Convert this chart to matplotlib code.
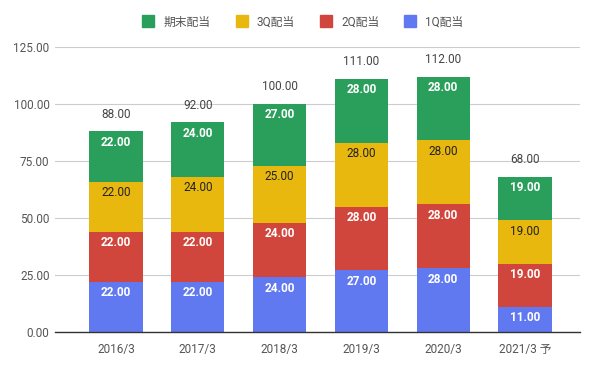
import matplotlib
matplotlib.use("Agg")
import matplotlib.pyplot as plt
import numpy as np
from matplotlib.lines import Line2D

plt.rcParams["font.family"] = ["Roboto", "Noto Sans CJK JP", "DejaVu Sans"]

categories = ["2016/3", "2017/3", "2018/3", "2019/3", "2020/3", "2021/3 予"]
q1 = [22, 22, 24, 27, 28, 11]
q2 = [22, 22, 24, 28, 28, 19]
q3 = [22, 24, 25, 28, 28, 19]
q_end = [22, 24, 27, 28, 28, 19]
series_names = ["1Q配当", "2Q配当", "3Q配当", "期末配当"]
yticks = [0, 25, 50, 75, 100, 125]

colors = ["#6079f1", "#d1463c", "#e8b80f", "#2a9f5b"]
label_colors = ["white", "white", "#222222", "white"]
label_weights = ["bold", "bold", "normal", "bold"]

W, H = 597, 368
fig = plt.figure(figsize=(W / 100, H / 100), dpi=100)
ax = fig.add_axes([55 / W, 1 - 332 / H, (580 - 55) / W, (332 - 47) / H])

x = np.arange(len(categories))
series = [q1, q2, q3, q_end]
bottom = np.zeros(len(categories))
px_per_unit = (332 - 47) / 125
for vals, col, lc, lw in zip(series, colors, label_colors, label_weights):
    vals = np.array(vals, dtype=float)
    ax.bar(x, vals, width=0.65, bottom=bottom, color=col, zorder=3)
    for xi, b, v in zip(x, bottom, vals):
        ax.text(xi, b + v - 11 / px_per_unit, f"{v:.2f}", ha="center", va="center",
                color=lc, fontsize=8.5, fontweight=lw, zorder=4)
    bottom += vals

for xi, tot in zip(x, bottom):
    ax.text(xi, tot + 17 / px_per_unit, f"{tot:.2f}", ha="center", va="center",
            color="#444444", fontsize=8.5, zorder=4)

ax.set_xlim((55 - 116) / 81.8, (580 - 116) / 81.8)
ax.set_ylim(0, 125)
ax.set_yticks(yticks)
ax.set_yticklabels([f"{t:.2f}" for t in yticks])
ax.set_xticks(x)
ax.set_xticklabels(categories)
ax.tick_params(axis="both", length=0, labelsize=8.5, colors="#555555", pad=4)
ax.tick_params(axis="x", pad=8)
ax.grid(axis="y", color="#cccccc", linewidth=0.8, zorder=0)
for side in ["top", "right", "left"]:
    ax.spines[side].set_visible(False)
ax.spines["bottom"].set_color("#333333")
ax.spines["bottom"].set_linewidth(1.0)
ax.spines["bottom"].set_zorder(5)

handles = [Line2D([], [], marker="s", linestyle="", markersize=8, color=c)
           for c in reversed(colors)]
fig.legend(handles, list(reversed(series_names)), loc="center", ncol=4,
           bbox_to_anchor=(300 / W, 1 - 22 / H), frameon=False, fontsize=8.5,
           handletextpad=0.3, columnspacing=1.6, labelcolor="#555555")

fig.savefig("out.png", dpi=100)
